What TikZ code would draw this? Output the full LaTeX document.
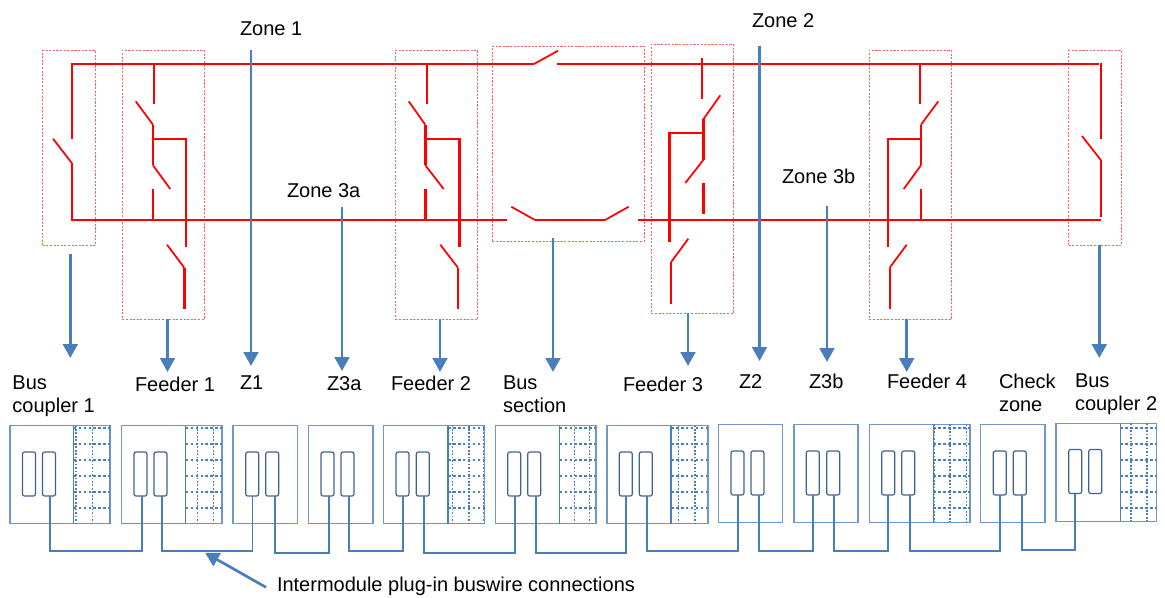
\documentclass[tikz,border=0pt]{standalone}
\usepackage{fontspec}
\setmainfont{Liberation Sans}
\usetikzlibrary{arrows.meta}
\definecolor{bl}{HTML}{4A7EBB}
\definecolor{modc}{HTML}{6F97C9}
\definecolor{plugc}{HTML}{40628F}
\definecolor{dashr}{HTML}{FF5F5F}
\newcommand\boxnode[6]{%
  \pgfmathsetmacro\bw{(#5-#3)*0.75}\pgfmathsetmacro\bh{(#6-#4)*0.75}%
  \node[#1,minimum width=\bw pt,minimum height=\bh pt] (#2) at ({(#3+#5)/2},{(#4+#6)/2}) {};}
\newcommand\plugpair[4]{% name, x1, x2, ytop
  \boxnode{plug}{#1a}{#2}{#4}{#2+13}{#4+44}%
  \boxnode{plug}{#1b}{#3}{#4}{#3+13}{#4+44}}
\newcommand\gridlines[6]{% divider x, right x, top, bottom, offset of rows, vertical list
  \draw[modline] (#1,#3) -- (#1,#4);
  \foreach \gy in {0,16,32,48,64,80}{\draw[griddoth] (#1,{#5+\gy}) -- (#2,{#5+\gy});}
  \foreach \gx in {#6}{\draw[griddotv] (\gx,#3) -- (\gx,#4);}}
\newcommand\wire[5]{% from, dx, to, dx, y
  \path ([shift={(#2,0)}]#1.south) coordinate (wa) ([shift={(#4,0)}]#3.south) coordinate (wb);
  \draw[wire] (wa) -- (wa |- 0,#5) -- (wb |- 0,#5) -- (wb);}
\tikzset{
  modbox/.style={draw=modc,line width=0.9pt,inner sep=0pt,outer sep=0pt,fill=none},
  plug/.style={draw=plugc,line width=0.9pt,rounded corners=1.5pt,inner sep=0pt,outer sep=0pt},
  modline/.style={draw=bl,line width=0.9pt},
  griddoth/.style={draw=bl,line width=1.25pt,dash pattern=on 2pt off 1.7pt},
  griddotv/.style={draw=bl,line width=0.9pt,dash pattern=on 1.3pt off 1.3pt},
  wire/.style={draw=bl,line width=1.4pt,line join=miter},
  zonebox/.style={draw=dashr,line width=0.6pt,dash pattern=on 1.6pt off 1.1pt,inner sep=0pt,outer sep=0pt},
  rd/.style={draw=red,line width=1.6pt},
  rdk/.style={draw=red,line width=2pt},
  blade/.style={draw=red,line width=1.3pt},
  flow/.style={draw=bl,line width=2.2pt,-{Triangle[length=10.5pt,width=11pt]}},
  lab/.style={anchor=west,inner sep=0pt,outer sep=0pt,align=left,font=\fontsize{15pt}{17.25pt}\selectfont,text=black},
}
\begin{document}
\begin{tikzpicture}[x=0.75pt,y=-0.75pt]
\useasboundingbox (0,0) rectangle (1165,597);
% zone boxes
\boxnode{zonebox}{zb1}{42.7}{50.3}{95.3}{245.3}
\boxnode{zonebox}{zf1}{122.3}{50.3}{204.3}{319.3}
\boxnode{zonebox}{zf2}{395.3}{50.3}{477.7}{319.3}
\boxnode{zonebox}{zbs}{492.3}{46.3}{644.3}{241}
\boxnode{zonebox}{zf3}{651.3}{44.3}{733.3}{313.3}
\boxnode{zonebox}{zf4}{869.3}{50.3}{951.3}{319.3}
\boxnode{zonebox}{zb2}{1068.7}{50.3}{1121.3}{245.3}
% busbars
\draw[rd] (1099.3,64) -- (557,64);
\draw[rd] (534,64) -- (72,64) -- (72,138.7);
\draw[blade] (534,64) -- (558,50.7);
\draw[blade] (53,138.7) -- (72,163.3);
\draw[rd] (72,163.3) -- (72,220) -- (507,220);
\draw[blade] (511.3,206.7) -- (535,220);
\draw[rd] (535,220) -- (605,220);
\draw[blade] (605,220) -- (628.7,206.7);
\draw[rd] (638,220) -- (1100.7,220);
% feeder 1
\draw[rd] (154,64) -- (154,103.7);
\draw[blade] (135.7,101.3) -- (153,124.7);
\draw[rd] (153,124.7) -- (153,165.3);
\draw[blade] (153,165.3) -- (170.3,189);
\draw[rd] (153,189) -- (153,220);
\draw[rd] (153,138.7) -- (186,138.7) -- (186,246.7);
\draw[blade] (167,244.7) -- (184.3,267.7);
\draw[rdk] (184.3,267.7) -- (184.3,308.7);
% feeder 2
\draw[rdk] (427,64) -- (427,103.7);
\draw[blade] (408.7,101.3) -- (425.3,124.7);
\draw[rdk] (425.3,124.7) -- (425.3,165.3);
\draw[blade] (425.3,165.3) -- (443.7,189);
\draw[rdk] (425.3,189) -- (425.3,220);
\draw[rd] (425.3,138.7) -- (459.7,138.7);
\draw[rdk] (459.7,138) -- (459.7,246.7);
\draw[blade] (440.3,244.7) -- (458,267.7);
\draw[rd] (458,267.7) -- (458,308.7);
% feeder 3
\draw[rd] (702,58) -- (702,99);
\draw[blade] (720.3,95.3) -- (703.3,119.3);
\draw[rdk] (703.3,119.3) -- (703.3,160);
\draw[blade] (703.3,160) -- (685.3,183);
\draw[rdk] (703.3,183) -- (703.3,213.7);
\draw[rd] (703.3,133) -- (669.7,133);
\draw[rdk] (669.7,132.3) -- (669.7,241.7);
\draw[blade] (688.3,238.7) -- (671,262.3);
\draw[rd] (671,262.3) -- (671,303.7);
% feeder 4
\draw[rd] (920,64) -- (920,103.7);
\draw[blade] (938.3,101.3) -- (921,124.7);
\draw[rd] (921,124.7) -- (921,165.3);
\draw[blade] (921,165.3) -- (903.7,189);
\draw[rd] (921,189) -- (921,220);
\draw[rd] (921,138.7) -- (888,138.7) -- (888,246.7);
\draw[blade] (906.7,244.7) -- (889.7,267.7);
\draw[rd] (889.7,267.7) -- (889.7,308.7);
% bus coupler 2
\draw[rd] (1101,62.7) -- (1101,138.7);
\draw[blade] (1082,136) -- (1101,160.3);
\draw[rd] (1101,160.3) -- (1101,217);
% labels
\node[lab] (tz1) at (240,29) {Zone 1};
\node[lab] (tz2) at (752,21) {Zone 2};
\node[lab] (tz3a) at (287,191) {Zone 3a};
\node[lab] (tz3b) at (782,176) {Zone 3b};
\node[lab] (lb1) at (12.5,396) {Bus\\coupler 1};
\node[lab] (lf1) at (135,384) {Feeder 1};
\node[lab] (lz1) at (240,383) {Z1};
\node[lab] (lz3a) at (327,384) {Z3a};
\node[lab] (lf2) at (391,383) {Feeder 2};
\node[lab] (lbs) at (503,394.5) {Bus\\section};
\node[lab] (lf3) at (623,384) {Feeder 3};
\node[lab] (lz2) at (739,382) {Z2};
\node[lab] (lz3b) at (809,381) {Z3b};
\node[lab] (lf4) at (887,381) {Feeder 4};
\node[lab] (lcz) at (999,392.5) {Check\\zone};
\node[lab] (lb2) at (1075,394) {Bus\\coupler 2};
\node[lab] (lic) at (277,586) {Intermodule plug-in buswire connections};
% flow arrows
\coordinate (s1) at (70.3,254); \coordinate (e1) at (70.3,358);
\coordinate (s2) at (167.5,319.3); \coordinate (e2) at (167.5,372);
\coordinate (s3) at (251,50); \coordinate (e3) at (251,366);
\coordinate (s4) at (342,207); \coordinate (e4) at (342,371);
\coordinate (s5) at (440,319.3); \coordinate (e5) at (440,372);
\coordinate (s6) at (553,238); \coordinate (e6) at (553,372);
\coordinate (s7) at (688,313.3); \coordinate (e7) at (688,366);
\coordinate (s8) at (759.5,46); \coordinate (e8) at (759.5,361);
\coordinate (s9) at (827,206); \coordinate (e9) at (827,362);
\coordinate (s10) at (906.7,319.3); \coordinate (e10) at (906.7,372);
\coordinate (s11) at (1099.3,245.3); \coordinate (e11) at (1099.3,358);
\foreach \i in {1,...,11}{\draw[flow] (s\i) -- (e\i);}
% modules
\boxnode{modbox}{m1}{10}{425.5}{110}{523.6}
\boxnode{modbox}{m2}{121.5}{425.5}{222}{523.6}
\boxnode{modbox}{m3}{233}{425.5}{297.5}{523.6}
\boxnode{modbox}{m4}{308.3}{425.5}{373}{523.6}
\boxnode{modbox}{m5}{383.7}{425.5}{484.5}{523.6}
\boxnode{modbox}{m6}{495.3}{425.5}{596}{523.6}
\boxnode{modbox}{m7}{607}{425.5}{708}{523.6}
\boxnode{modbox}{m8}{718.7}{424.3}{782.3}{522.3}
\boxnode{modbox}{m9}{794}{424.3}{858}{522.3}
\boxnode{modbox}{m10}{869.3}{424.3}{970}{522.3}
\boxnode{modbox}{m11}{980.7}{424.3}{1045}{522.3}
\boxnode{modbox}{m12}{1056}{423.3}{1156.7}{521.3}
\gridlines{73.7}{110}{425.5}{523.6}{427.7}{76,92.7,109.3}
\gridlines{185.7}{222}{425.5}{523.6}{427.7}{197.3,213.3}
\gridlines{448}{484.5}{425.5}{523.6}{427.7}{452.7,469,483.7}
\gridlines{559.7}{596}{425.5}{523.6}{427.7}{574.3,589.3}
\gridlines{671}{708}{425.5}{523.6}{427.7}{678.3,695}
\gridlines{933.3}{970}{424.3}{522.3}{427.7}{934,950,966.7}
\gridlines{1120.3}{1156.7}{423.3}{521.3}{427.7}{1131,1147}
% plugs
\plugpair{p1}{22.5}{42.5}{452}
\plugpair{p2}{134}{154}{452}
\plugpair{p3}{245.7}{265.7}{452}
\plugpair{p4}{321}{341}{452}
\plugpair{p5}{396}{416.3}{452}
\plugpair{p6}{507.7}{527.7}{452}
\plugpair{p7}{619.3}{639.3}{452}
\plugpair{p8}{731}{751}{451}
\plugpair{p9}{806.3}{826.7}{451}
\plugpair{p10}{881.7}{901.7}{451}
\plugpair{p11}{993.3}{1013.3}{451}
\plugpair{p12}{1068.7}{1088.7}{449.5}
% buswire links
\wire{p1b}{1}{p2a}{1.5}{550.7}
\wire{p2b}{1.5}{p3a}{0.3}{550.7}
\wire{p3b}{2.8}{p4a}{1.5}{552.7}
\wire{p4b}{1.5}{p5a}{0.2}{550.7}
\wire{p5b}{1.2}{p6a}{0.8}{552.7}
\wire{p6b}{1.8}{p7a}{0.5}{552.7}
\wire{p7b}{1.5}{p8a}{0.8}{550.7}
\wire{p8b}{1.8}{p9a}{0.2}{550.7}
\wire{p9b}{0.8}{p10a}{-0.2}{550.7}
\wire{p10b}{1.8}{p11a}{0.2}{550.7}
\wire{p11b}{2}{p12a}{-0.2}{549.7}
% pointer
\coordinate (pt) at (205,552.7);
\coordinate (ps) at (266,587.3);
\draw[draw=bl,line width=2pt,-{Triangle[length=10.5pt,width=11pt]}] (ps) -- (pt);
\end{tikzpicture}
\end{document}
